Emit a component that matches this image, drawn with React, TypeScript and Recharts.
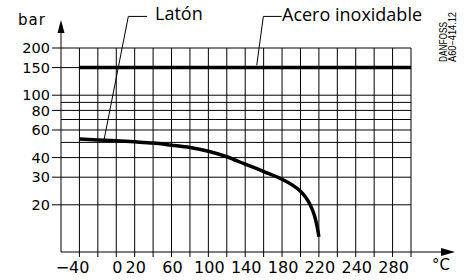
import React from "react";
import {
  LineChart,
  Line,
  XAxis,
  YAxis,
  CartesianGrid,
  ReferenceLine,
} from "recharts";

// Temperature (°C) and pressure (bar)
const latonTemp = [-40, -20, 0, 20, 40, 60, 80, 100, 120, 140, 160, 180, 190, 200, 205, 210, 215, 218, 220];
const latonBar = [52.5, 51.8, 51.2, 50.4, 49.5, 48.0, 46.4, 43.9, 40.5, 36.3, 32.6, 29.1, 27.0, 24.4, 22.6, 20.3, 17.2, 14.6, 12.5];

const aceroTemp = [-40, 320];
const aceroBar = [150, 150];

const xTicks = [-40, -20, 0, 20, 40, 60, 80, 100, 120, 140, 160, 180, 200, 220, 240, 260, 280, 300, 320];
const xLabelAt = [-40, 0, 20, 60, 100, 140, 180, 220, 260, 300];
const xLabelText = ["−40", "0", "20", "60", "100", "140", "180", "220", "240", "280"];

const yTicks = [20, 30, 40, 50, 60, 70, 80, 90, 100, 150, 200];
const yLabels = [20, 30, 40, 60, 80, 100, 150, 200];

// leader lines for the labels (data units)
const latonLeader = [
  { x: -13.3, y: 51.8 },
  { x: 13.1, y: 318 },
  { x: 33.4, y: 318 },
];
const aceroLeader = [
  { x: 152.5, y: 155 },
  { x: 159.7, y: 318 },
  { x: 179.6, y: 318 },
];

const latonData = latonTemp.map((t, i) => ({ t, p: latonBar[i] }));
const aceroData = aceroTemp.map((t, i) => ({ t, p: aceroBar[i] }));

const numFont = "DejaVu Sans";

const YTick = (props: any) => {
  const { x, y, payload } = props;
  const v = payload.value;
  if (!yLabels.includes(v)) return <g />;
  return (
    <g>
      <line x1={x + 2} x2={x + 11} y1={y} y2={y} stroke="#000" strokeWidth={1} />
      <text x={x} y={y} dy="0.36em" textAnchor="end" fontFamily={numFont} fontSize={14.5} fill="#000">
        {v}
      </text>
    </g>
  );
};

const XTick = (props: any) => {
  const { x, y, payload } = props;
  const idx = xLabelAt.indexOf(payload.value);
  if (idx < 0) return <g />;
  const label = xLabelText[idx];
  const neg = label.startsWith("−");
  return (
    <text
      x={neg ? x + 10 : x + 1}
      y={y}
      dy="0.71em"
      textAnchor={neg ? "end" : "middle"}
      fontFamily={numFont}
      fontSize={16}
      fill="#000"
    >
      {label}
    </text>
  );
};

export default function App() {
  return (
    <div style={{ position: "absolute", left: 0, top: 0, width: 470, height: 280, background: "#fff" }}>
      <LineChart
        width={470}
        height={280}
        margin={{ top: 48, right: 59, bottom: 0, left: 0 }}
      >
        <CartesianGrid stroke="#000" strokeWidth={1} horizontalValues={yTicks} verticalValues={xTicks} />
        <XAxis
          type="number"
          dataKey="t"
          domain={[-60, 320]}
          ticks={xTicks}
          interval={0}
          height={28}
          tickSize={5}
          tickMargin={5}
          stroke="#000"
          axisLine={{ stroke: "#000" }}
          tickLine={{ stroke: "#000" }}
          tick={<XTick />}
          allowDataOverflow
        />
        <YAxis
          type="number"
          scale="log"
          domain={[10, 200]}
          ticks={yTicks}
          interval={0}
          width={61}
          tickSize={9}
          tickMargin={2}
          axisLine={{ stroke: "#000" }}
          tickLine={false}
          tick={<YTick />}
          allowDataOverflow
        />
        <Line
          data={aceroData}
          dataKey="p"
          type="linear"
          stroke="#000"
          strokeWidth={3.5}
          dot={false}
          isAnimationActive={false}
        />
        <Line
          data={latonData}
          dataKey="p"
          type="monotone"
          stroke="#000"
          strokeWidth={3.5}
          strokeLinecap="butt"
          dot={false}
          isAnimationActive={false}
        />
        <ReferenceLine segment={[latonLeader[0], latonLeader[1]]} stroke="#000" strokeWidth={1} ifOverflow="visible" />
        <ReferenceLine segment={[latonLeader[1], latonLeader[2]]} stroke="#000" strokeWidth={1} ifOverflow="visible" />
        <ReferenceLine segment={[aceroLeader[0], aceroLeader[1]]} stroke="#000" strokeWidth={1} ifOverflow="visible" />
        <ReferenceLine segment={[aceroLeader[1], aceroLeader[2]]} stroke="#000" strokeWidth={1} ifOverflow="visible" />
      </LineChart>
      <svg
        width={470}
        height={280}
        style={{ position: "absolute", left: 0, top: 0, pointerEvents: "none" }}
      >
        {/* axis extensions with arrows */}
        <line x1={61} x2={61} y1={48} y2={32} stroke="#000" strokeWidth={1} />
        <polygon points="57.5,33 64.5,33 61,20" fill="#000" />
        <line x1={411} x2={442} y1={252} y2={252} stroke="#000" strokeWidth={1} />
        <polygon points="441,248 441,256 455,252" fill="#000" />
        <text x={18} y={25} fontFamily={numFont} fontSize={15} letterSpacing={1} fill="#000">bar</text>
        <text x={432} y={270} fontFamily={numFont} fontSize={15} fill="#000">°C</text>
        <text x={155} y={20} fontFamily="Open Sans" fontSize={18} fill="#000">Latón</text>
        <text x={282} y={20.5} fontFamily="Open Sans" fontSize={18} fill="#000">Acero inoxidable</text>
        <text x={447} y={62} transform="rotate(-90 447 62)" fontFamily="Liberation Sans" fontSize={10} textLength={40} lengthAdjust="spacingAndGlyphs" fill="#000">DANFOSS</text>
        <text x={456} y={62} transform="rotate(-90 456 62)" fontFamily="Liberation Sans" fontSize={10} textLength={50} lengthAdjust="spacingAndGlyphs" fill="#000">A60−414.12</text>
      </svg>
    </div>
  );
}
